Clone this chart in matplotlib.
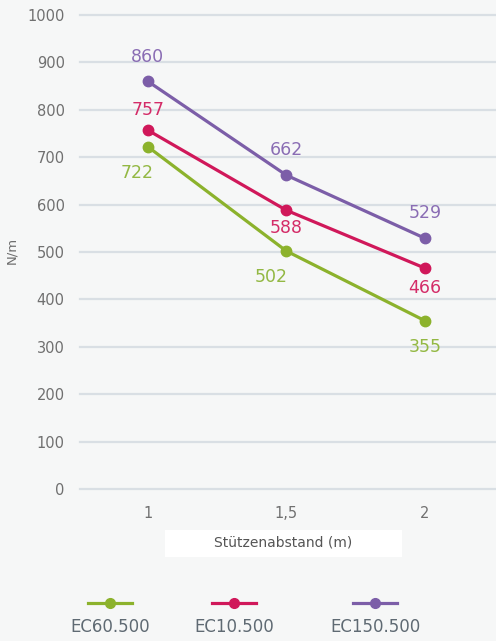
import matplotlib
matplotlib.use('Agg')
import matplotlib.pyplot as plt
from matplotlib.lines import Line2D
from matplotlib.patches import Rectangle

# data
x_vals = [1, 1.5, 2]
x_labels = ['1', '1,5', '2']
series_names = ['EC60.500', 'EC10.500', 'EC150.500']
ec60 = [722, 502, 355]
ec10 = [757, 588, 466]
ec150 = [860, 662, 529]
y_ticks = [0, 100, 200, 300, 400, 500, 600, 700, 800, 900, 1000]

# styles
line_colors = ['#8cb22c', '#d0185a', '#7c5ea8']
text_colors = ['#93b843', '#d42c68', '#8a6db4']
# label offsets in pixels (dx, dy) for each point
offsets = [
    [(-11, -26), (-15, -26), (0, -26)],
    [(0, 20), (0, -18), (0, -20)],
    [(0, 24), (0, 25), (0, 25)],
]

bg = '#f6f7f7'
fig = plt.figure(figsize=(4.96, 6.41), dpi=100, facecolor=bg)
ax = fig.add_axes([80/496, (641-489)/641, 415/496, 474/641], facecolor=bg)

ax.set_xlim(0.755, 2.253)
ax.set_ylim(0, 1000)
ax.set_yticks(y_ticks)
ax.set_xticks(x_vals)
ax.set_xticklabels(x_labels)
for y in y_ticks:
    ax.axhline(y, color='#d9dfe4', lw=1.6, zorder=1, clip_on=False)

for s in ax.spines.values():
    s.set_visible(False)
ax.tick_params(length=0, labelsize=10.5, labelcolor='#707070')
ax.tick_params(axis='y', pad=11)
ax.tick_params(axis='x', pad=12)

all_series = [ec60, ec10, ec150]
for vals, lc, tc, offs in zip(all_series, line_colors, text_colors, offsets):
    ax.plot(x_vals, vals, color=lc, lw=2.3, marker='o', markersize=7.5,
            zorder=3, clip_on=False)
    for xv, yv, (dx, dy) in zip(x_vals, vals, offs):
        ax.annotate(str(yv), (xv, yv), xytext=(dx, dy), textcoords='offset pixels',
                    ha='center', va='center', fontsize=12.5, color=tc, zorder=4)

# y label
fig.text(12/496, 1 - 250/641, 'N/m', rotation=90, ha='center', va='center',
         fontsize=9.5, color='#6e6e6e')

# x label in white box
fig.add_artist(Rectangle((165/496, 1 - 557/641), 237/496, 27/641,
                         transform=fig.transFigure, facecolor='white',
                         edgecolor='none'))
fig.text(283/496, 1 - 543/641, 'Stützenabstand (m)', ha='center', va='center',
         fontsize=10, color='#555555')

# legend
leg_x = [110, 234, 375]
for name, lc, cx in zip(series_names, line_colors, leg_x):
    fig.add_artist(Line2D([(cx - 22)/496, (cx + 22)/496], [1 - 603/641]*2,
                          transform=fig.transFigure, color=lc, lw=2.3))
    fig.add_artist(Line2D([cx/496], [1 - 603/641], transform=fig.transFigure,
                          color=lc, marker='o', markersize=7))
    fig.text(cx/496, 1 - 627/641, name, ha='center', va='center',
             fontsize=12, color='#5f6a73')

fig.savefig('out.png', dpi=100, facecolor=bg)
